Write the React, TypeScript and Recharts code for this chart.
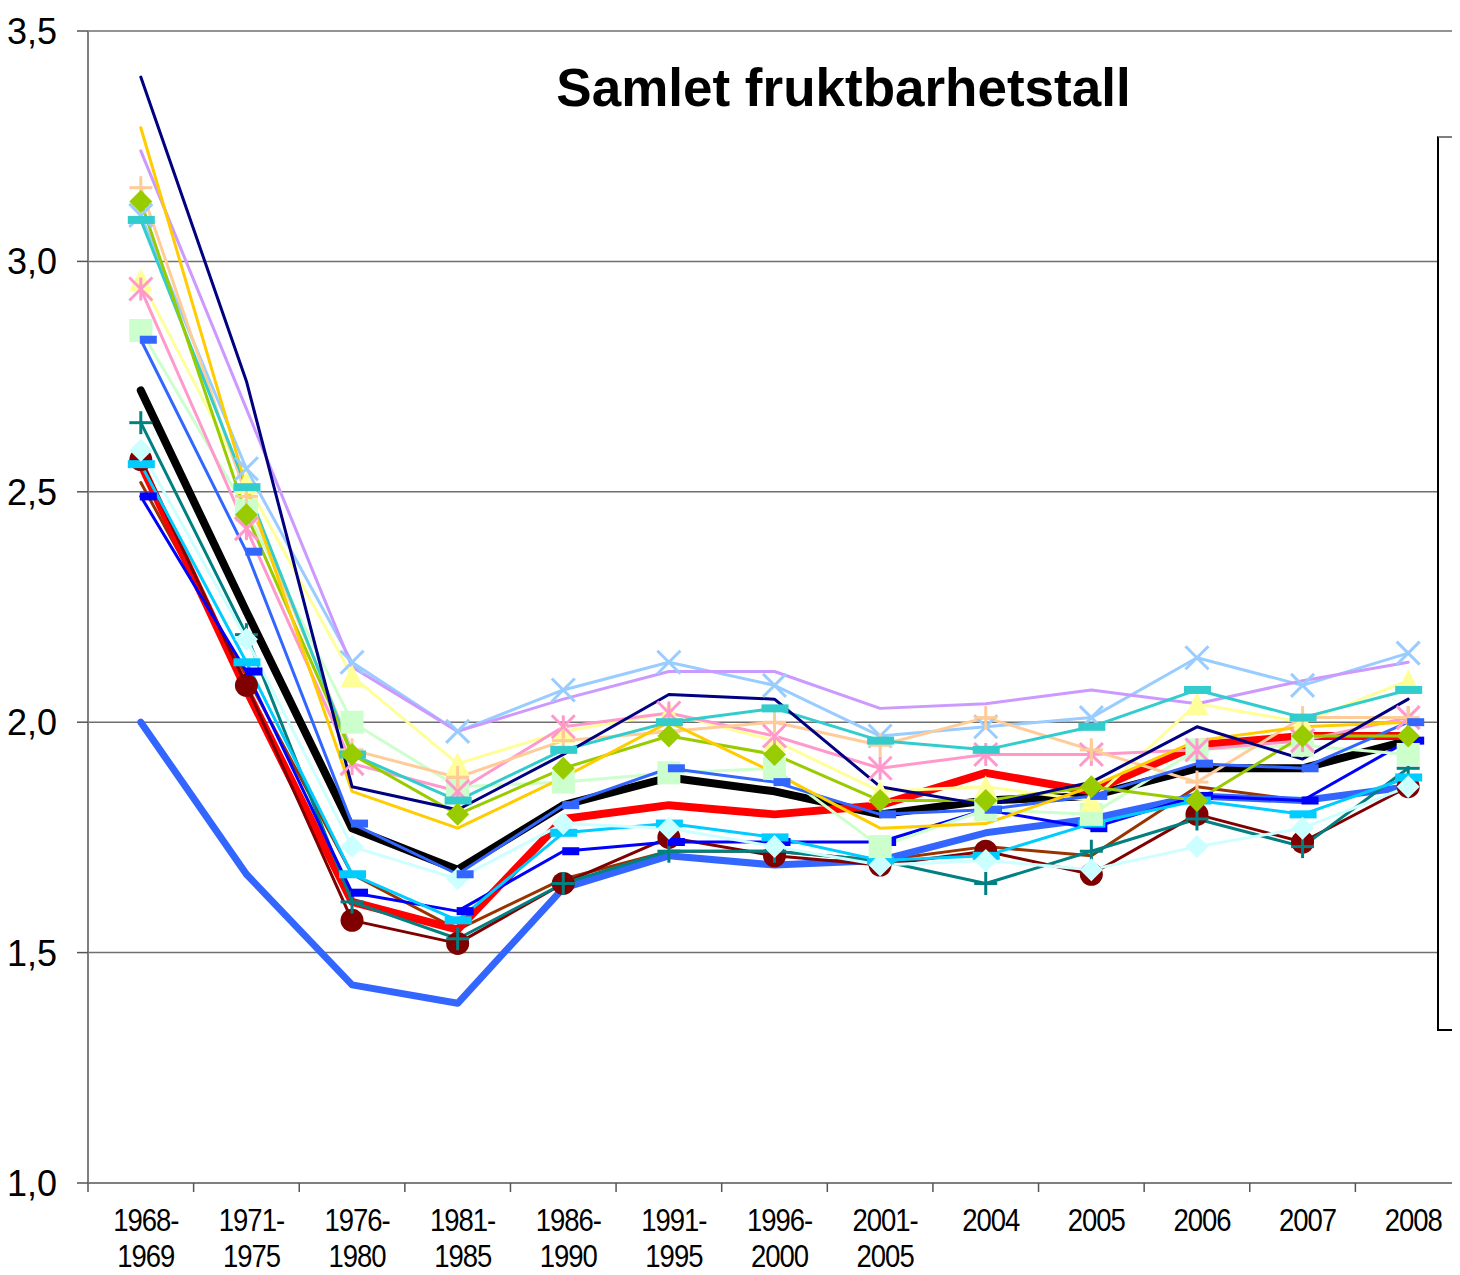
import React from "react";
import { LineChart, Line, XAxis, YAxis, CartesianGrid } from "recharts";

const categories = [
  "1968-1969", "1971-1975", "1976-1980", "1981-1985", "1986-1990", "1991-1995",
  "1996-2000", "2001-2005", "2004", "2005", "2006", "2007", "2008"
];
const yTicks = [1, 1.5, 2, 2.5, 3, 3.5];

const heleLandet = [2.72, 2.24, 1.77, 1.68, 1.82, 1.88, 1.85, 1.80, 1.83, 1.84, 1.90, 1.90, 1.96];
const ostfold = [2.52, 2.10, 1.67, 1.55, 1.66, 1.72, 1.72, 1.70, 1.73, 1.71, 1.86, 1.83, 1.86];
const akershus = [2.56, 2.07, 1.61, 1.55, 1.79, 1.82, 1.80, 1.82, 1.89, 1.85, 1.95, 1.97, 1.97];
const oslo = [2.00, 1.67, 1.43, 1.39, 1.64, 1.71, 1.69, 1.70, 1.76, 1.79, 1.84, 1.83, 1.86];
const hedmark = [2.57, 2.08, 1.57, 1.52, 1.65, 1.75, 1.71, 1.69, 1.72, 1.67, 1.80, 1.74, 1.86];
const oppland = [2.65, 2.19, 1.61, 1.53, 1.65, 1.72, 1.72, 1.70, 1.65, 1.72, 1.79, 1.73, 1.90];
const buskerud = [2.49, 2.11, 1.63, 1.59, 1.72, 1.74, 1.74, 1.74, 1.81, 1.77, 1.84, 1.83, 1.96];
const vestfold = [2.56, 2.13, 1.67, 1.57, 1.76, 1.78, 1.75, 1.70, 1.71, 1.78, 1.83, 1.80, 1.88];
const telemark = [2.59, 2.18, 1.73, 1.66, 1.78, 1.77, 1.73, 1.69, 1.70, 1.68, 1.73, 1.77, 1.86];
const austAgder = [2.85, 2.46, 2.00, 1.86, 1.87, 1.89, 1.90, 1.73, 1.81, 1.80, 1.94, 1.95, 1.93];
const vestAgder = [2.96, 2.52, 2.10, 1.91, 1.98, 2.02, 1.96, 1.85, 1.86, 1.83, 2.04, 2.00, 2.09];
const rogaland = [3.10, 2.55, 2.13, 1.98, 2.07, 2.13, 2.08, 1.97, 1.99, 2.01, 2.14, 2.08, 2.15];
const hordaland = [2.94, 2.42, 1.91, 1.85, 1.99, 2.02, 1.97, 1.90, 1.93, 1.93, 1.94, 1.96, 2.01];
const sognOgFjordane = [3.24, 2.68, 2.12, 1.98, 2.05, 2.11, 2.11, 2.03, 2.04, 2.07, 2.04, 2.09, 2.13];
const moreOgRomsdal = [3.16, 2.49, 1.94, 1.88, 1.96, 1.98, 2.00, 1.95, 2.01, 1.94, 1.87, 2.01, 2.01];
const sorTrondelag = [2.83, 2.37, 1.78, 1.67, 1.82, 1.90, 1.87, 1.80, 1.81, 1.84, 1.91, 1.90, 2.00];
const nordTrondelag = [3.09, 2.51, 1.93, 1.83, 1.94, 2.00, 2.03, 1.96, 1.94, 1.99, 2.07, 2.01, 2.07];
const nordland = [3.13, 2.45, 1.93, 1.80, 1.90, 1.97, 1.93, 1.83, 1.83, 1.86, 1.83, 1.97, 1.97];
const troms = [3.29, 2.51, 1.85, 1.77, 1.88, 2.00, 1.89, 1.77, 1.78, 1.86, 1.96, 1.99, 2.00];
const finnmark = [3.40, 2.74, 1.86, 1.81, 1.93, 2.06, 2.05, 1.86, 1.82, 1.87, 1.99, 1.92, 2.05];

type Marker = "none" | "circle" | "plus" | "shortDash" | "longDash" | "diamond" | "square" | "triangle" | "x" | "asterisk";

const series: { name: string; values: number[]; color: string; width: number; marker: Marker }[] = [
  { name: "Hele landet", values: heleLandet, color: "#000000", width: 8, marker: "none" },
  { name: "Østfold", values: ostfold, color: "#993300", width: 3, marker: "none" },
  { name: "Akershus", values: akershus, color: "#FF0000", width: 8, marker: "none" },
  { name: "Oslo", values: oslo, color: "#3366FF", width: 7, marker: "none" },
  { name: "Hedmark", values: hedmark, color: "#800000", width: 3, marker: "circle" },
  { name: "Oppland", values: oppland, color: "#008080", width: 3, marker: "plus" },
  { name: "Buskerud", values: buskerud, color: "#0000FF", width: 3, marker: "shortDash" },
  { name: "Vestfold", values: vestfold, color: "#00CCFF", width: 3, marker: "longDash" },
  { name: "Telemark", values: telemark, color: "#CCFFFF", width: 3, marker: "diamond" },
  { name: "Aust-Agder", values: austAgder, color: "#CCFFCC", width: 3, marker: "square" },
  { name: "Vest-Agder", values: vestAgder, color: "#FFFF99", width: 3, marker: "triangle" },
  { name: "Rogaland", values: rogaland, color: "#99CCFF", width: 3, marker: "x" },
  { name: "Hordaland", values: hordaland, color: "#FF99CC", width: 3, marker: "asterisk" },
  { name: "Sogn og Fjordane", values: sognOgFjordane, color: "#CC99FF", width: 3, marker: "none" },
  { name: "Møre og Romsdal", values: moreOgRomsdal, color: "#FFCC99", width: 3, marker: "plus" },
  { name: "Sør-Trøndelag", values: sorTrondelag, color: "#3366FF", width: 3, marker: "shortDash" },
  { name: "Nord-Trøndelag", values: nordTrondelag, color: "#33CCCC", width: 3, marker: "longDash" },
  { name: "Nordland", values: nordland, color: "#99CC00", width: 3, marker: "diamond" },
  { name: "Troms", values: troms, color: "#FFCC00", width: 3, marker: "none" },
  { name: "Finnmark", values: finnmark, color: "#000080", width: 3, marker: "none" }
];

const data = categories.map((cat, i) => {
  const row: Record<string, string | number> = { cat };
  series.forEach((s, j) => {
    row["s" + j] = s.values[i];
  });
  return row;
});

const FONT = "'Liberation Sans', Arial, sans-serif";
const PLOT_W = 1373;
const STEP = PLOT_W / categories.length;

function markerDot(kind: Marker, color: string, name: string) {
  return (p: any) => {
    const { cx, cy, index } = p;
    const key = `${name}-${index}`;
    if (cx == null || cy == null) return <g key={key} />;
    const h = 11.5;
    switch (kind) {
      case "circle":
        return <circle key={key} cx={cx} cy={cy} r={11.5} fill={color} />;
      case "plus":
        return (
          <g key={key} stroke={color} strokeWidth={3}>
            <line x1={cx - h} y1={cy} x2={cx + h} y2={cy} />
            <line x1={cx} y1={cy - h} x2={cx} y2={cy + h} />
          </g>
        );
      case "shortDash":
        return <rect key={key} x={cx - 1} y={cy - 4} width={17} height={8} fill={color} />;
      case "longDash":
        return <rect key={key} x={cx - 13} y={cy - 4} width={27} height={8} fill={color} />;
      case "diamond":
        return (
          <polygon key={key} points={`${cx},${cy - h} ${cx + h},${cy} ${cx},${cy + h} ${cx - h},${cy}`} fill={color} />
        );
      case "square":
        return <rect key={key} x={cx - h} y={cy - h} width={23} height={23} fill={color} />;
      case "triangle":
        return (
          <polygon key={key} points={`${cx},${cy - h} ${cx + h},${cy + h} ${cx - h},${cy + h}`} fill={color} />
        );
      case "x":
        return (
          <g key={key} stroke={color} strokeWidth={3}>
            <line x1={cx - h} y1={cy - h} x2={cx + h} y2={cy + h} />
            <line x1={cx - h} y1={cy + h} x2={cx + h} y2={cy - h} />
          </g>
        );
      case "asterisk":
        return (
          <g key={key} stroke={color} strokeWidth={3}>
            <line x1={cx - h} y1={cy - h} x2={cx + h} y2={cy + h} />
            <line x1={cx - h} y1={cy + h} x2={cx + h} y2={cy - h} />
            <line x1={cx} y1={cy - h} x2={cx} y2={cy + h} />
          </g>
        );
      default:
        return <g key={key} />;
    }
  };
}

function XTick(props: any) {
  const { x, y, payload, index } = props;
  const label: string = payload.value;
  const parts = label.includes("-") ? [label.split("-")[0] + "-", label.split("-")[1]] : [label];
  return (
    <g>
      <line x1={x - STEP / 2} y1={y - 8} x2={x - STEP / 2} y2={y + 1} stroke="#555" strokeWidth={1.5} />
      {index === categories.length - 1 && (
        <line x1={x + STEP / 2} y1={y - 8} x2={x + STEP / 2} y2={y + 1} stroke="#555" strokeWidth={1.5} />
      )}
      {parts.map((t, i) => (
        <text
          key={t}
          transform={`translate(${x + 5}, ${y + 40 + i * 36}) scale(0.86, 1)`}
          textAnchor="middle"
          fontSize={32}
          fontFamily={FONT}
          letterSpacing={-1.2}
          fill="#000"
        >
          {t}
        </text>
      ))}
    </g>
  );
}

function YTick(props: any) {
  const { y, payload } = props;
  return (
    <text x={7} y={y + 13} fontSize={36} fontFamily={FONT} fill="#000" textAnchor="start">
      {payload.value.toFixed(1).replace(".", ",")}
    </text>
  );
}

export default function App() {
  return (
    <div
      style={{
        position: "relative",
        width: 1460,
        height: 1275,
        margin: -8,
        overflow: "hidden",
        background: "#fff",
        fontFamily: FONT
      }}
    >
      <div style={{ position: "absolute", left: 0, top: 0, width: 2, height: 1275, background: "#555", zIndex: 2 }} />
      <LineChart
        width={1480}
        height={1275}
        data={data}
        margin={{ top: 31, right: 19, left: 0, bottom: 0 }}
      >
        <CartesianGrid horizontal vertical={false} stroke="#6f6f6f" strokeWidth={1.5} />
        <XAxis
          dataKey="cat"
          interval={0}
          height={92}
          padding={{ left: STEP / 2, right: STEP / 2 }}
          tickLine={false}
          axisLine={{ stroke: "#7f7f7f", strokeWidth: 2 }}
          tick={<XTick />}
        />
        <YAxis
          domain={[1, 3.5]}
          ticks={yTicks}
          width={88}
          tickSize={11}
          tickLine={{ stroke: "#555", strokeWidth: 1.5 }}
          axisLine={{ stroke: "#7f7f7f", strokeWidth: 2 }}
          tick={<YTick />}
        />
        {series.map((s, j) => (
          <Line
            key={s.name}
            type="linear"
            dataKey={"s" + j}
            name={s.name}
            stroke={s.color}
            strokeWidth={s.width}
            strokeLinejoin="round"
            strokeLinecap="round"
            dot={s.marker === "none" ? false : markerDot(s.marker, s.color, s.name)}
            activeDot={false}
            isAnimationActive={false}
          />
        ))}
      </LineChart>
      <div
        style={{
          position: "absolute",
          left: 553,
          top: 56,
          width: 581,
          textAlign: "center",
          fontSize: 53,
          fontWeight: "bold",
          lineHeight: "64px",
          whiteSpace: "nowrap",
          zIndex: 2
        }}
      >
        Samlet fruktbarhetstall
      </div>
      <div
        style={{
          position: "absolute",
          left: 1437,
          top: 136,
          width: 300,
          height: 891,
          background: "#fff",
          borderLeft: "2px solid #000",
          borderTop: "2px solid #7f7f7f",
          borderBottom: "2px solid #000",
          zIndex: 3
        }}
      >
        {series.map((s, i) => (
          <div
            key={s.name}
            style={{
              position: "absolute",
              left: 13,
              top: 22 + i * 44.4 - 20,
              height: 40,
              display: "flex",
              alignItems: "center",
              whiteSpace: "nowrap",
              fontSize: 30
            }}
          >
            <span
              style={{
                display: "inline-block",
                width: 40,
                height: Math.max(3, s.width),
                background: s.color,
                borderRadius: s.width > 5 ? s.width / 2 : 0,
                marginRight: 10
              }}
            />
            {s.name}
          </div>
        ))}
      </div>
    </div>
  );
}
